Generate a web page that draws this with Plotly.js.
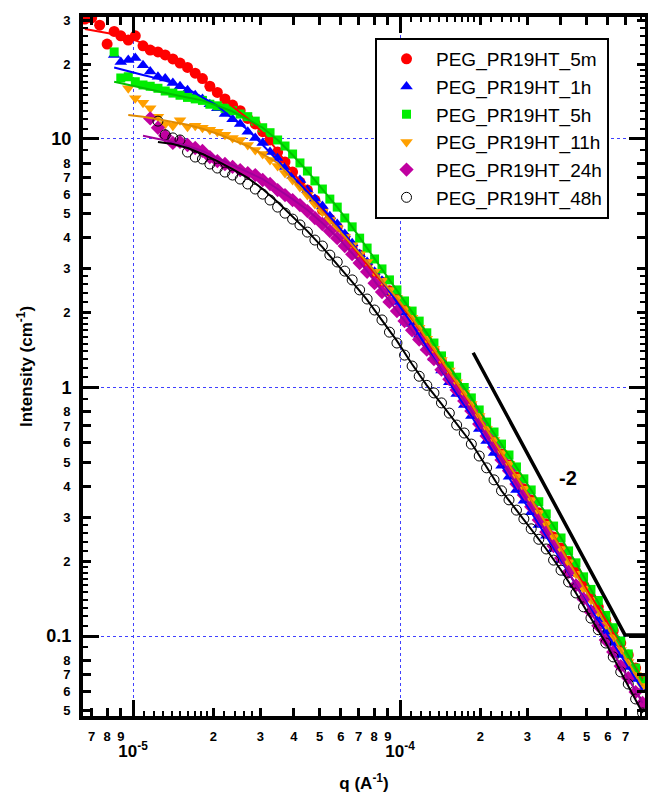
<!DOCTYPE html>
<html><head><meta charset="utf-8">
<script src="https://cdn.plot.ly/plotly-3.0.1.min.js"></script>
<style>html,body{margin:0;padding:0;background:#fff}#chart{width:648px;height:793px}</style>
</head><body><div id="chart"></div>
<script>
// shared q grid (A^-1)
const q = [6.6e-6, 7.0e-6, 7.5e-6, 8.0e-6, 8.5e-6, 9.0e-6, 9.6e-6, 1.02e-5, 1.09e-5, 1.16e-5, 1.24e-5, 1.32e-5, 1.41e-5, 1.50e-5, 1.60e-5, 1.71e-5, 1.82e-5, 1.94e-5, 2.07e-5, 2.21e-5, 2.36e-5, 2.52e-5, 2.69e-5, 2.87e-5, 3.06e-5, 3.26e-5, 3.48e-5, 3.71e-5, 3.96e-5, 4.22e-5, 4.50e-5, 4.80e-5, 5.12e-5, 5.46e-5, 5.82e-5, 6.21e-5, 6.62e-5, 7.06e-5, 7.53e-5, 8.03e-5, 8.56e-5, 9.13e-5, 9.74e-5, 1.04e-4, 1.11e-4, 1.18e-4, 1.26e-4, 1.34e-4, 1.43e-4, 1.53e-4, 1.63e-4, 1.74e-4, 1.85e-4, 1.98e-4, 2.11e-4, 2.25e-4, 2.40e-4, 2.56e-4, 2.73e-4, 2.91e-4, 3.10e-4, 3.31e-4, 3.53e-4, 3.76e-4, 4.01e-4, 4.28e-4, 4.56e-4, 4.87e-4, 5.19e-4, 5.53e-4, 5.90e-4, 6.29e-4, 6.71e-4, 7.16e-4, 7.63e-4, 8.10e-4];

const I_5m = [30.4, 30.7, 28.7, 24.1, 27.1, 26.0, 25.0, 26.0, 23.7, 22.8, 22.4, 21.8, 21.0, 20.2, 19.4, 18.4, 17.5, 16.3, 15.4, 14.5, 13.7, 13.0, 12.1, 11.5, 10.7, 9.91, 8.86, 8.08, 7.36, 6.71, 6.23, 5.68, 5.18, 4.76, 4.43, 4.03, 3.71, 3.41, 3.14, 2.87, 2.66, 2.45, 2.27, 2.07, 1.89, 1.72, 1.55, 1.42, 1.27, 1.14, 1.03, 0.942, 0.851, 0.761, 0.680, 0.609, 0.540, 0.488, 0.437, 0.391, 0.353, 0.313, 0.283, 0.250, 0.226, 0.200, 0.181, 0.160, 0.143, 0.131, 0.116, 0.105, 0.0937, 0.0839, 0.0743, 0.0671];
const I_1h = [null, null, null, null, 21.8, 20.4, 20.8, 21.2, 19.8, 18.7, 17.8, 17.5, 16.8, 16.3, 15.7, 15.0, 14.5, 13.8, 13.3, 12.6, 12.0, 11.5, 10.7, 10.1, 9.64, 8.86, 8.38, 7.72, 7.09, 6.84, 6.23, 5.73, 5.37, 4.89, 4.55, 4.15, 3.81, 3.44, 3.20, 2.92, 2.69, 2.42, 2.21, 2.00, 1.80, 1.63, 1.45, 1.31, 1.17, 1.05, 0.942, 0.851, 0.768, 0.680, 0.609, 0.545, 0.484, 0.437, 0.387, 0.350, 0.315, 0.280, 0.253, 0.224, 0.202, 0.179, 0.160, 0.143, 0.128, 0.116, 0.104, 0.0937, 0.0839, 0.0750, 0.0671, 0.0606];
const I_5h = [null, null, null, null, 22.4, 17.6, 17.8, 17.0, 16.5, 16.3, 16.0, 15.6, 15.3, 15.0, 14.7, 14.5, 14.3, 13.8, 13.6, 13.3, 13.0, 12.6, 12.3, 11.8, 11.1, 10.6, 9.91, 9.37, 8.70, 8.01, 7.43, 6.78, 6.29, 5.73, 5.32, 4.81, 4.43, 3.99, 3.64, 3.29, 3.00, 2.71, 2.47, 2.23, 2.03, 1.85, 1.66, 1.51, 1.34, 1.22, 1.10, 1.00, 0.908, 0.812, 0.726, 0.662, 0.592, 0.535, 0.479, 0.429, 0.387, 0.347, 0.310, 0.277, 0.248, 0.220, 0.197, 0.173, 0.154, 0.139, 0.121, 0.108, 0.0955, 0.0847, 0.0743, 0.0659];
const I_11h = [null, null, null, null, null, null, 16.0, 14.6, 14.0, 13.3, 12.3, 11.5, 11.3, 11.9, 11.2, 11.3, 11.1, 10.9, 10.7, 10.4, 10.1, 9.91, 9.46, 9.03, 8.70, 8.23, 7.79, 7.29, 6.84, 6.41, 5.95, 5.47, 5.09, 4.72, 4.38, 4.03, 3.74, 3.44, 3.20, 2.92, 2.69, 2.47, 2.29, 2.07, 1.91, 1.74, 1.57, 1.43, 1.29, 1.17, 1.05, 0.951, 0.859, 0.768, 0.680, 0.615, 0.545, 0.493, 0.437, 0.391, 0.353, 0.313, 0.283, 0.250, 0.224, 0.198, 0.178, 0.155, 0.140, 0.125, 0.111, 0.0988, 0.0879, 0.0786, 0.0697, 0.0629];
const I_24h = [null, null, null, null, null, null, null, null, null, 12.1, 11.1, 10.3, 9.64, 9.73, 9.46, 9.20, 8.95, 8.46, 8.15, 7.93, 7.72, 7.50, 7.29, 7.16, 6.84, 6.59, 6.23, 5.95, 5.68, 5.42, 5.13, 4.81, 4.55, 4.26, 3.99, 3.71, 3.44, 3.17, 2.92, 2.63, 2.42, 2.21, 2.03, 1.85, 1.70, 1.56, 1.42, 1.30, 1.18, 1.08, 0.977, 0.883, 0.805, 0.713, 0.638, 0.576, 0.511, 0.462, 0.409, 0.369, 0.331, 0.293, 0.262, 0.230, 0.206, 0.181, 0.160, 0.141, 0.125, 0.110, 0.0964, 0.0863, 0.0757, 0.0677, 0.0595, 0.0538];
const I_48h = [null, null, null, null, null, null, null, null, null, null, 11.8, 10.4, 10.1, 9.91, 8.86, 8.46, 8.31, 7.93, 7.64, 7.36, 7.16, 6.90, 6.59, 6.29, 6.00, 5.68, 5.32, 5.03, 4.76, 4.51, 4.22, 3.92, 3.71, 3.41, 3.20, 2.94, 2.71, 2.47, 2.27, 2.05, 1.87, 1.67, 1.51, 1.35, 1.22, 1.11, 1.02, 0.951, 0.867, 0.789, 0.706, 0.656, 0.592, 0.530, 0.475, 0.425, 0.384, 0.353, 0.321, 0.296, 0.270, 0.245, 0.224, 0.202, 0.184, 0.165, 0.149, 0.131, 0.118, 0.106, 0.0937, 0.0824, 0.0717, 0.0641, 0.0558, 0.0490];

// fitted curves
const fitQ = [6.6e-6, 7.5e-6, 8.5e-6, 9.6e-6, 1.09e-5, 1.24e-5, 1.41e-5, 1.60e-5, 1.82e-5, 2.07e-5, 2.36e-5, 2.69e-5, 3.06e-5, 3.48e-5, 3.96e-5, 4.50e-5, 5.12e-5, 5.82e-5, 6.62e-5, 7.53e-5, 8.56e-5, 9.74e-5, 1.11e-4, 1.26e-4, 1.43e-4, 1.63e-4, 1.85e-4, 2.11e-4, 2.40e-4, 2.73e-4, 3.10e-4, 3.53e-4, 4.01e-4, 4.56e-4, 5.19e-4, 5.90e-4, 6.71e-4, 7.63e-4, 8.10e-4];
const fit_5m = [27.7, 27.1, 26.4, 25.7, 24.3, 22.8, 21.2, 19.2, 17.5, 15.3, 13.5, 12.1, 10.6, 8.95, 7.36, 6.23, 5.18, 4.38, 3.71, 3.14, 2.66, 2.25, 1.89, 1.55, 1.27, 1.03, 0.851, 0.680, 0.540, 0.437, 0.353, 0.283, 0.226, 0.181, 0.143, 0.116, 0.0937, 0.0743, 0.0671];
const fit_1h = [null, null, 19.4, 18.7, 18.1, 17.5, 16.8, 15.9, 14.7, 13.6, 12.1, 10.9, 9.46, 8.23, 7.09, 6.12, 5.28, 4.51, 3.81, 3.20, 2.69, 2.21, 1.80, 1.45, 1.17, 0.942, 0.768, 0.609, 0.484, 0.387, 0.315, 0.253, 0.202, 0.160, 0.128, 0.104, 0.0839, 0.0671, 0.0606];
const fit_5h = [null, null, 17.0, 16.5, 16.0, 15.6, 15.1, 14.7, 14.3, 13.6, 12.9, 12.0, 11.1, 9.91, 8.62, 7.43, 6.29, 5.32, 4.43, 3.64, 3.00, 2.47, 2.03, 1.66, 1.34, 1.10, 0.908, 0.726, 0.592, 0.479, 0.387, 0.310, 0.248, 0.197, 0.154, 0.121, 0.0955, 0.0743, 0.0659];
const fit_11h = [null, null, null, 12.5, 12.3, 12.0, 11.7, 11.4, 11.0, 10.5, 9.91, 9.37, 8.70, 8.01, 6.84, 5.95, 5.09, 4.38, 3.74, 3.20, 2.69, 2.29, 1.91, 1.57, 1.29, 1.05, 0.859, 0.680, 0.545, 0.437, 0.353, 0.283, 0.224, 0.178, 0.140, 0.111, 0.0879, 0.0697, 0.0629];
const fit_24h = [null, null, null, null, 10.3, 10.0, 9.73, 9.37, 8.95, 8.38, 7.86, 7.36, 6.90, 6.29, 5.73, 5.18, 4.59, 4.03, 3.47, 2.94, 2.45, 2.03, 1.70, 1.42, 1.18, 0.977, 0.805, 0.638, 0.511, 0.409, 0.331, 0.262, 0.206, 0.160, 0.125, 0.0964, 0.0757, 0.0595, 0.0538];
const fit_48h = [null, null, null, null, null, 9.73, 9.55, 9.20, 8.70, 8.15, 7.57, 6.97, 6.29, 5.58, 4.89, 4.26, 3.67, 3.14, 2.66, 2.25, 1.87, 1.54, 1.24, 1.02, 0.859, 0.713, 0.598, 0.479, 0.384, 0.321, 0.270, 0.224, 0.184, 0.149, 0.118, 0.0937, 0.0717, 0.0558, 0.0490];

// slope guide (-2)
const slopeQ = [1.88e-4, 6.96e-4, 8.3e-4];
const slopeI = [1.38, 0.101, 0.101];
const slopeLabel = {q: 4.26e-4, I: 0.432, text: '-2'};

const names = ['PEG_PR19HT_5m', 'PEG_PR19HT_1h', 'PEG_PR19HT_5h', 'PEG_PR19HT_11h', 'PEG_PR19HT_24h', 'PEG_PR19HT_48h'];

// ticks
const xMajorVals = [1e-5, 1e-4];
const xMajorText = ['10<sup>-5</sup>', '10<sup>-4</sup>'];
const xMidVals = [7e-6, 8e-6, 9e-6, 2e-5, 3e-5, 4e-5, 5e-5, 6e-5, 7e-5, 8e-5, 9e-5, 2e-4, 3e-4, 4e-4, 5e-4, 6e-4, 7e-4];
const xMidText = ['7', '8', '9', '2', '3', '4', '5', '6', '7', '8', '9', '2', '3', '4', '5', '6', '7'];
const xSmallVals = [1.1e-5, 1.2e-5, 1.3e-5, 1.4e-5, 1.5e-5, 1.6e-5, 1.7e-5, 1.8e-5, 1.9e-5, 2.2e-5, 2.4e-5, 2.6e-5, 2.8e-5, 1.1e-4, 1.2e-4, 1.3e-4, 1.4e-4, 1.5e-4, 1.6e-4, 1.7e-4, 1.8e-4, 1.9e-4, 2.2e-4, 2.4e-4, 2.6e-4, 2.8e-4, 8e-4];
const yMajorVals = [0.1, 1, 10];
const yMajorText = ['0.1', '1', '10'];
const yMidVals = [0.05, 0.06, 0.07, 0.08, 0.2, 0.3, 0.4, 0.5, 0.6, 0.7, 0.8, 2, 3, 4, 5, 6, 7, 8, 20, 30];
const yMidText = ['5', '6', '7', '8', '2', '3', '4', '5', '6', '7', '8', '2', '3', '4', '5', '6', '7', '8', '2', '3'];
const ySmallVals = [0.09, 0.11, 0.12, 0.13, 0.14, 0.15, 0.16, 0.17, 0.18, 0.19, 0.22, 0.24, 0.26, 0.28, 0.9, 1.1, 1.2, 1.3, 1.4, 1.5, 1.6, 1.7, 1.8, 1.9, 2.2, 2.4, 2.6, 2.8, 9, 11, 12, 13, 14, 15, 16, 17, 18, 19, 22, 24, 26, 28];

const seriesI = [I_5m, I_1h, I_5h, I_11h, I_24h, I_48h];
const fits = [fit_5m, fit_1h, fit_5h, fit_11h, fit_24h, fit_48h];
const markerStyles = [
  {symbol: 'circle', color: '#ff0000', size: 11},
  {symbol: 'triangle-up', color: '#0000ff', size: 11},
  {symbol: 'square', color: '#00ee00', size: 9},
  {symbol: 'triangle-down', color: '#ffa000', size: 11},
  {symbol: 'diamond', color: '#c000a0', size: 11},
  {symbol: 'circle-open', color: '#000000', size: 10, line: {width: 1, color: '#000'}}
];
const lineColors = ['#ff0000', '#0000ff', '#00c000', '#e08a00', '#a0009a', '#000000'];

const traces = [];
seriesI.forEach((arr, k) => {
  traces.push({x: q, y: arr, type: 'scatter', mode: 'markers', name: names[k], legendgroup: 'g' + k,
    marker: markerStyles[k], hoverinfo: 'skip'});
});
fits.forEach((arr, k) => {
  traces.push({x: fitQ, y: arr, type: 'scatter', mode: 'lines', showlegend: false, legendgroup: 'g' + k,
    line: {color: lineColors[k], width: 2}, hoverinfo: 'skip'});
});
traces.push({x: slopeQ, y: slopeI, type: 'scatter', mode: 'lines', showlegend: false,
  line: {color: '#000', width: 3.5}, hoverinfo: 'skip'});
traces.push({x: [null], y: [null], xaxis: 'x2', yaxis: 'y2', type: 'scatter', mode: 'markers', showlegend: false, hoverinfo: 'skip'});

const xr = [-5.1873, -3.0824];
const yr = [-1.3219, 1.4909];
const F = 'Liberation Sans, Arial, Helvetica, sans-serif';

const layout = {
  width: 648, height: 793,
  margin: {l: 83, r: 3, t: 17, b: 77, pad: 0},
  paper_bgcolor: '#fff', plot_bgcolor: '#fff',
  font: {family: F, color: '#000'},
  showlegend: true,
  xaxis: {type: 'log', range: xr, autorange: false, tickmode: 'array', tickvals: xMajorVals, ticktext: xMajorText,
    ticks: 'inside', ticklen: 16, tickwidth: 3, tickcolor: '#000', showline: true, linewidth: 4, linecolor: '#000',
    mirror: 'allticks', showgrid: true, gridcolor: '#4040ff', griddash: 'dot', gridwidth: 1, zeroline: false,
    tickfont: {family: F, size: 17, weight: 'bold'}, ticklabelstandoff: 17,
    title: {text: 'q (A<sup>-1</sup>)', font: {family: F, size: 17, weight: 'bold'}, standoff: 20}},
  yaxis: {type: 'log', range: yr, autorange: false, tickmode: 'array', tickvals: yMajorVals, ticktext: yMajorText,
    ticks: 'inside', ticklen: 16, tickwidth: 3, tickcolor: '#000', showline: true, linewidth: 4, linecolor: '#000',
    mirror: 'allticks', showgrid: true, gridcolor: '#4040ff', griddash: 'dot', gridwidth: 1, zeroline: false,
    tickfont: {family: F, size: 18, weight: 'bold'}, ticklabelstandoff: 4,
    title: {text: 'Intensity (cm<sup>-1</sup>)', font: {family: F, size: 17, weight: 'bold'}, standoff: 10}},
  xaxis2: {type: 'log', range: xr, autorange: false, overlaying: 'x', anchor: 'y2', side: 'bottom',
    tickmode: 'array', tickvals: xMidVals, ticktext: xMidText,
    ticks: 'inside', ticklen: 8, tickwidth: 3, tickcolor: '#000', showline: true, linewidth: 4, linecolor: '#000',
    mirror: 'allticks', showgrid: false, zeroline: false,
    tickfont: {family: F, size: 13, weight: 'bold'}, ticklabelstandoff: 5,
    minor: {tickmode: 'array', tickvals: xSmallVals, ticks: 'inside', ticklen: 5, tickwidth: 2, tickcolor: '#000', showgrid: false}},
  yaxis2: {type: 'log', range: yr, autorange: false, overlaying: 'y', anchor: 'x2', side: 'left',
    tickmode: 'array', tickvals: yMidVals, ticktext: yMidText,
    ticks: 'inside', ticklen: 8, tickwidth: 3, tickcolor: '#000', showline: true, linewidth: 4, linecolor: '#000',
    mirror: 'allticks', showgrid: false, zeroline: false,
    tickfont: {family: F, size: 13, weight: 'bold'}, ticklabelstandoff: 6,
    minor: {tickmode: 'array', tickvals: ySmallVals, ticks: 'inside', ticklen: 5, tickwidth: 2, tickcolor: '#000', showgrid: false}},
  legend: {x: 0.5196, y: 0.970, xanchor: 'left', yanchor: 'top', bgcolor: '#fff', bordercolor: '#000', borderwidth: 2,
    font: {family: F, size: 19, color: '#000'}, tracegroupgap: 0, itemwidth: 49, entrywidth: 275, entrywidthmode: 'pixels'},
  annotations: [{x: Math.log10(slopeLabel.q), y: Math.log10(slopeLabel.I), xref: 'x', yref: 'y', text: slopeLabel.text,
    showarrow: false, font: {family: F, size: 20, weight: 'bold', color: '#000'}}]
};

Plotly.newPlot('chart', traces, layout, {staticPlot: true, displayModeBar: false});
</script>
</body></html>
